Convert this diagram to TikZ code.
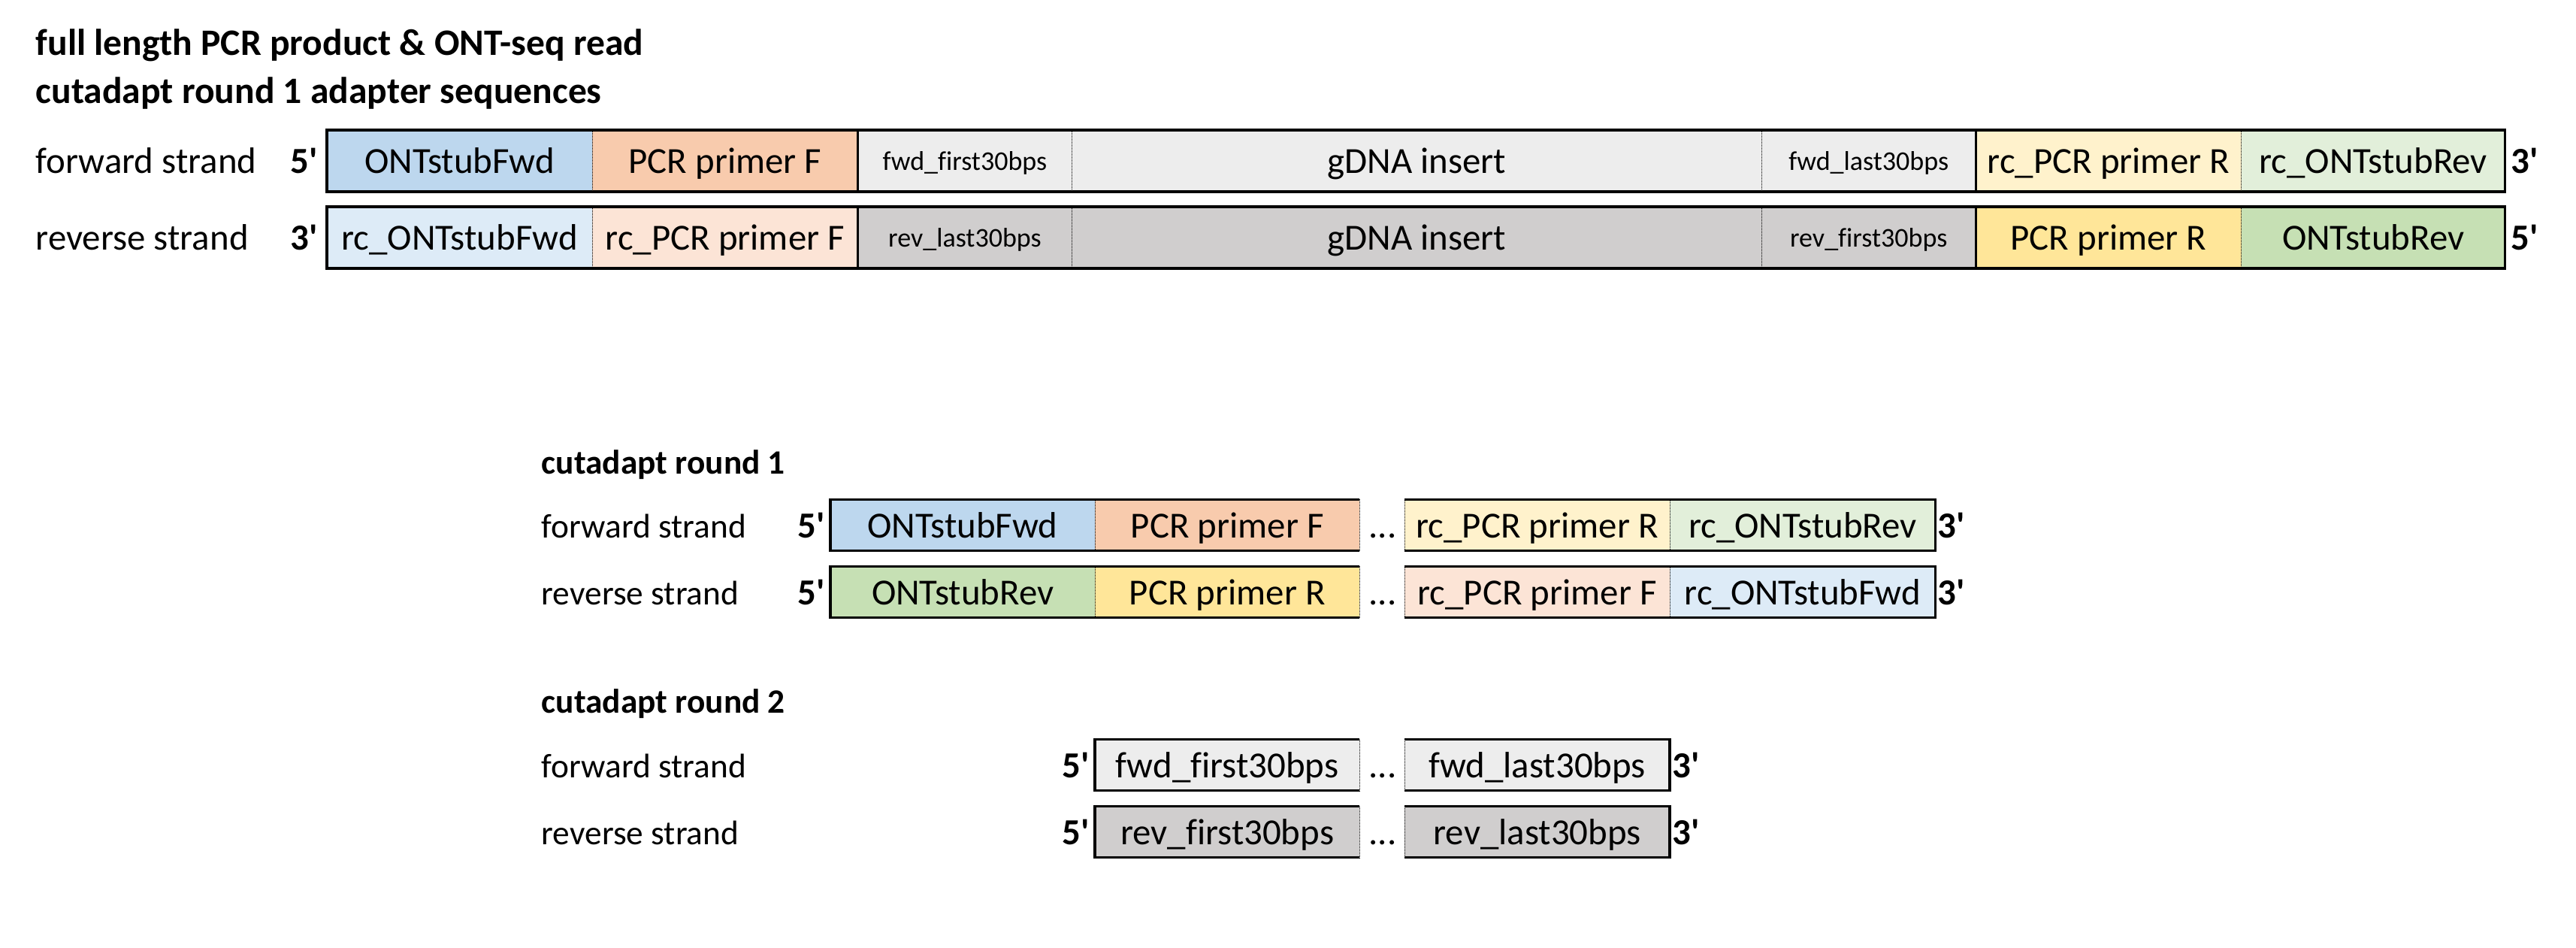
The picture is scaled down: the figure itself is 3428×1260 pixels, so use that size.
\documentclass[tikz,border=0pt]{standalone}
\usepackage{fontspec}
\setmainfont{Carlito}[Ligatures={CommonOff}]
\definecolor{cBlue}{HTML}{BDD7EE}
\definecolor{cBlueL}{HTML}{DDEBF7}
\definecolor{cOr}{HTML}{F8CBAD}
\definecolor{cOrL}{HTML}{FCE4D6}
\definecolor{cGrL}{HTML}{EDEDED}
\definecolor{cGrD}{HTML}{D0CECE}
\definecolor{cYelL}{HTML}{FFF2CC}
\definecolor{cYel}{HTML}{FFE699}
\definecolor{cGrnL}{HTML}{E2EFDA}
\definecolor{cGrn}{HTML}{C6E0B4}
\newcommand{\fsBig}{\fontsize{13.9pt}{16pt}\selectfont}
\newcommand{\fsTitle}{\fontsize{14.1pt}{16pt}\selectfont}
\newcommand{\fsMid}{\fontsize{12.9pt}{15pt}\selectfont}
\newcommand{\fsSmall}{\fontsize{10.24pt}{12pt}\selectfont}
\newcommand{\pr}{\textquotesingle}
\begin{document}
\begin{tikzpicture}[x=0.01cm,y=-0.01cm,
  seg/.style={rectangle, inner sep=0pt, outer sep=0pt, draw=none, anchor=west,
    font=\fsBig, text height=0.4365cm, text depth=0.1067cm},
  segsmall/.style={seg, font=\fsSmall, text height=0.324cm, text depth=0.079cm},
  rowA/.style={minimum height=0.82cm},
  rowB/.style={minimum height=0.68cm},
  outline/.style={line width=0.035cm, line join=miter},
  solidsep/.style={line width=0.035cm},
  dotsep/.style={line width=0.01cm, dash pattern=on 0.01cm off 0.01cm},
  title/.style={anchor=base west, inner sep=0pt, font=\fsTitle\bfseries},
  lab/.style={anchor=base west, inner sep=0pt, font=\fsBig},
  labsub/.style={anchor=base west, inner sep=0pt, font=\fsMid},
  titlesub/.style={anchor=base west, inner sep=0pt, font=\fsMid\bfseries},
  endmark/.style={anchor=base, inner sep=0pt, font=\fsBig\bfseries},
  gapdots/.style={anchor=base, inner sep=0pt, font=\fsBig}
]
\useasboundingbox (0,0) rectangle (3428,1260);

% ---------- titles ----------
\node[title] (t1) at (47,73) {full length PCR product \& ONT-seq read};
\node[title] (t2) at (47,137) {cutadapt round 1 adapter sequences};

% ---------- full length: forward strand ----------
\node[lab] (lf) at (47,230) {forward strand};
\node[endmark] (f5p) at (405,230) {5\pr};
\node[seg,rowA,fill=cBlue,minimum width=3.53cm] (f1) at (435,214) {ONTstubFwd};
\node[seg,rowA,fill=cOr,minimum width=3.53cm] (f2) at (f1.east) {PCR primer F};
\node[segsmall,rowA,fill=cGrL,minimum width=2.85cm] (f3) at (f2.east) {fwd\_first30bps};
\node[seg,rowA,fill=cGrL,minimum width=9.17cm] (f4) at (f3.east) {gDNA insert};
\node[segsmall,rowA,fill=cGrL,minimum width=2.85cm] (f5) at (f4.east) {fwd\_last30bps};
\node[seg,rowA,fill=cYelL,minimum width=3.53cm] (f6) at (f5.east) {rc\_PCR primer R};
\node[seg,rowA,fill=cGrnL,minimum width=3.51cm] (f7) at (f6.east) {rc\_ONTstubRev};
\node[endmark] (f3p) at (3360,230) {3\pr};
\draw[dotsep] (f1.north east) -- (f1.south east);
\draw[solidsep] (f2.north east) -- (f2.south east);
\draw[dotsep] (f3.north east) -- (f3.south east);
\draw[dotsep] (f4.north east) -- (f4.south east);
\draw[solidsep] (f5.north east) -- (f5.south east);
\draw[dotsep] (f6.north east) -- (f6.south east);
\draw[outline] (f1.north west) rectangle (f7.south east);

% ---------- full length: reverse strand ----------
\node[lab] (lr) at (47,332.5) {reverse strand};
\node[endmark] (r3p) at (405,332.5) {3\pr};
\node[seg,rowA,fill=cBlueL,minimum width=3.53cm] (r1) at (435,316) {rc\_ONTstubFwd};
\node[seg,rowA,fill=cOrL,minimum width=3.53cm] (r2) at (r1.east) {rc\_PCR primer F};
\node[segsmall,rowA,fill=cGrD,minimum width=2.85cm] (r3) at (r2.east) {rev\_last30bps};
\node[seg,rowA,fill=cGrD,minimum width=9.17cm] (r4) at (r3.east) {gDNA insert};
\node[segsmall,rowA,fill=cGrD,minimum width=2.85cm] (r5) at (r4.east) {rev\_first30bps};
\node[seg,rowA,fill=cYel,minimum width=3.53cm] (r6) at (r5.east) {PCR primer R};
\node[seg,rowA,fill=cGrn,minimum width=3.51cm] (r7) at (r6.east) {ONTstubRev};
\node[endmark] (r5p) at (3360,332.5) {5\pr};
\draw[dotsep] (r1.north east) -- (r1.south east);
\draw[solidsep] (r2.north east) -- (r2.south east);
\draw[dotsep] (r3.north east) -- (r3.south east);
\draw[dotsep] (r4.north east) -- (r4.south east);
\draw[solidsep] (r5.north east) -- (r5.south east);
\draw[dotsep] (r6.north east) -- (r6.south east);
\draw[outline] (r1.north west) rectangle (r7.south east);

% ---------- cutadapt round 1 ----------
\node[titlesub] (t3) at (720,630) {cutadapt round 1};
\node[labsub] (l1f) at (720,715) {forward strand};
\node[endmark] (a5p) at (1080,715) {5\pr};
\node[seg,rowB,fill=cBlue,minimum width=3.52cm] (a1) at (1105,698.5) {ONTstubFwd};
\node[seg,rowB,fill=cOr,minimum width=3.52cm] (a2) at (a1.east) {PCR primer F};
\node[gapdots] (adots) at (1840,715) {...};
\node[seg,rowB,fill=cYelL,minimum width=3.53cm] (a3) at (1869,698.5) {rc\_PCR primer R};
\node[seg,rowB,fill=cGrnL,minimum width=3.53cm] (a4) at (a3.east) {rc\_ONTstubRev};
\node[endmark] (a3p) at (2597,715) {3\pr};
\draw[dotsep] (a1.north east) -- (a1.south east);
\draw[dotsep] (a2.north east) -- (a2.south east);
\draw[dotsep] (a3.north west) -- (a3.south west);
\draw[dotsep] (a3.north east) -- (a3.south east);
\draw[outline] (a2.north east) -- (a1.north west) -- (a1.south west) -- (a2.south east);
\draw[outline] (a3.north west) -- (a4.north east) -- (a4.south east) -- (a3.south west);

\node[labsub] (l1r) at (720,804) {reverse strand};
\node[endmark] (b5p) at (1080,804) {5\pr};
\node[seg,rowB,fill=cGrn,minimum width=3.52cm] (b1) at (1105,787.5) {ONTstubRev};
\node[seg,rowB,fill=cYel,minimum width=3.52cm] (b2) at (b1.east) {PCR primer R};
\node[gapdots] (bdots) at (1840,804) {...};
\node[seg,rowB,fill=cOrL,minimum width=3.53cm] (b3) at (1869,787.5) {rc\_PCR primer F};
\node[seg,rowB,fill=cBlueL,minimum width=3.53cm] (b4) at (b3.east) {rc\_ONTstubFwd};
\node[endmark] (b3p) at (2597,804) {3\pr};
\draw[dotsep] (b1.north east) -- (b1.south east);
\draw[dotsep] (b2.north east) -- (b2.south east);
\draw[dotsep] (b3.north west) -- (b3.south west);
\draw[dotsep] (b3.north east) -- (b3.south east);
\draw[outline] (b2.north east) -- (b1.north west) -- (b1.south west) -- (b2.south east);
\draw[outline] (b3.north west) -- (b4.north east) -- (b4.south east) -- (b3.south west);

% ---------- cutadapt round 2 ----------
\node[titlesub] (t4) at (720,948) {cutadapt round 2};
\node[labsub] (l2f) at (720,1034) {forward strand};
\node[endmark] (c5p) at (1432,1034) {5\pr};
\node[seg,rowB,fill=cGrL,minimum width=3.52cm] (c1) at (1457,1017.5) {fwd\_first30bps};
\node[gapdots] (cdots) at (1840,1034) {...};
\node[seg,rowB,fill=cGrL,minimum width=3.53cm] (c2) at (1869,1017.5) {fwd\_last30bps};
\node[endmark] (c3p) at (2244,1034) {3\pr};
\draw[dotsep] (c1.north east) -- (c1.south east);
\draw[dotsep] (c2.north west) -- (c2.south west);
\draw[outline] (c1.north east) -- (c1.north west) -- (c1.south west) -- (c1.south east);
\draw[outline] (c2.north west) -- (c2.north east) -- (c2.south east) -- (c2.south west);

\node[labsub] (l2r) at (720,1123) {reverse strand};
\node[endmark] (d5p) at (1432,1123) {5\pr};
\node[seg,rowB,fill=cGrD,minimum width=3.52cm] (d1) at (1457,1106.5) {rev\_first30bps};
\node[gapdots] (ddots) at (1840,1123) {...};
\node[seg,rowB,fill=cGrD,minimum width=3.53cm] (d2) at (1869,1106.5) {rev\_last30bps};
\node[endmark] (d3p) at (2244,1123) {3\pr};
\draw[dotsep] (d1.north east) -- (d1.south east);
\draw[dotsep] (d2.north west) -- (d2.south west);
\draw[outline] (d1.north east) -- (d1.north west) -- (d1.south west) -- (d1.south east);
\draw[outline] (d2.north west) -- (d2.north east) -- (d2.south east) -- (d2.south west);
\end{tikzpicture}
\end{document}
